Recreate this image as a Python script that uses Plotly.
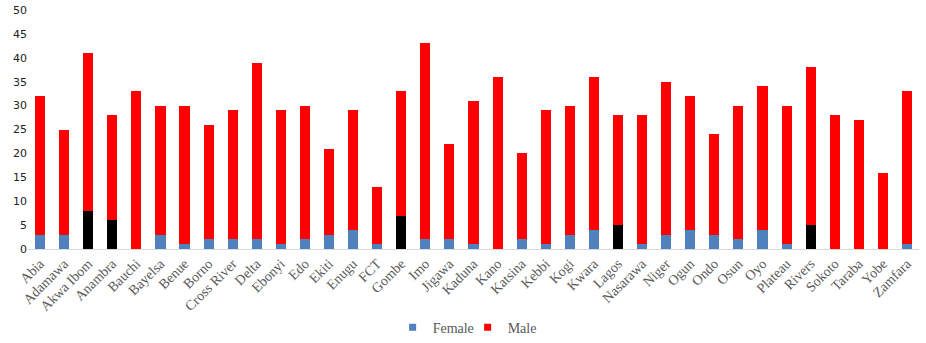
import plotly.graph_objects as go

# States (plus FCT) and counts by sex
states = ["Abia", "Adamawa", "Akwa Ibom", "Anambra", "Bauchi", "Bayelsa", "Benue", "Borno",
          "Cross River", "Delta", "Ebonyi", "Edo", "Ekiti", "Enugu", "FCT", "Gombe", "Imo",
          "Jigawa", "Kaduna", "Kano", "Katsina", "Kebbi", "Kogi", "Kwara", "Lagos", "Nasarawa",
          "Niger", "Ogun", "Ondo", "Osun", "Oyo", "Plateau", "Rivers", "Sokoto", "Taraba",
          "Yobe", "Zamfara"]
female = [3, 3, 8, 6, 0, 3, 1, 2, 2, 2, 1, 2, 3, 4, 1, 7, 2, 2, 1, 0, 2, 1, 3, 4, 5, 1,
          3, 4, 3, 2, 4, 1, 5, 0, 0, 0, 1]
total = [32, 25, 41, 28, 33, 30, 30, 26, 29, 39, 29, 30, 21, 29, 13, 33, 43, 22, 31, 36, 20,
         29, 30, 36, 28, 28, 35, 32, 24, 30, 34, 30, 38, 28, 27, 16, 33]
male = [t - f for t, f in zip(total, female)]

FEMALE_BLUE = "#4F81BD"
MALE_RED = "#FF0000"

# States whose female segment is highlighted in black
highlighted = ["Akwa Ibom", "Anambra", "Gombe", "Lagos", "Rivers"]
female_colors = ["#000000" if s in highlighted else FEMALE_BLUE for s in states]

fig = go.Figure()
fig.add_trace(go.Bar(x=states, y=female, name="Female", showlegend=False,
                     marker=dict(color=female_colors, line=dict(width=0))))
fig.add_trace(go.Bar(x=states, y=male, name="Male", showlegend=False,
                     marker=dict(color=MALE_RED, line=dict(width=0))))

# Small square legend keys
for name, color in [("Female", FEMALE_BLUE), ("Male", MALE_RED)]:
    fig.add_trace(go.Scatter(x=[None], y=[None], mode="markers", name=name,
                             marker=dict(symbol="square", size=7, color=color)))

fig.update_layout(
    barmode="stack",
    bargap=0.58,
    width=926, height=343,
    margin=dict(l=28, r=7, t=10, b=94, autoexpand=False),
    plot_bgcolor="white", paper_bgcolor="white",
    font=dict(family="Liberation Serif", color="#595959", size=14),
    showlegend=True,
    legend=dict(orientation="h", x=0.505, xanchor="center", xref="container",
                y=0.045, yanchor="middle", yref="container",
                font=dict(size=14, color="#595959"), itemwidth=30,
                entrywidth=30, entrywidthmode="pixels",
                traceorder="normal"),
    xaxis=dict(tickangle=-45, showline=True, linecolor="#D9D9D9", linewidth=1,
               ticks="", showgrid=False, automargin=False,
               tickfont=dict(size=14, color="#595959")),
    yaxis=dict(range=[0, 50], dtick=5, showgrid=False, zeroline=False, showline=False,
               ticks="", automargin=False,
               tickfont=dict(family="DejaVu Sans", size=11, color="#222222")),
)

fig.write_html("out.html")
